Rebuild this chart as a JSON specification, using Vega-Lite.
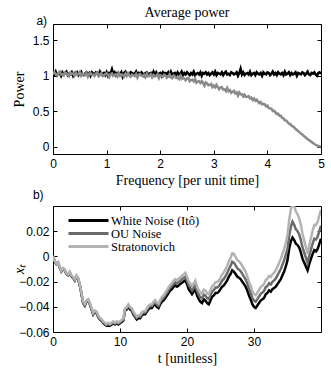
{
  "$schema": "https://vega.github.io/schema/vega-lite/v6.json",
  "padding": {"left": 11, "right": 5, "top": 5, "bottom": 3},
  "spacing": 0,
  "resolve": {"legend": {"color": "independent"}},
  "config": {
    "view": {"stroke": "black", "strokeWidth": 1},
    "axis": {"domain": false, "grid": false, "ticks": true, "tickColor": "black", "tickSize": -4, "tickWidth": 1,
      "labelFont": "Liberation Sans", "labelFontSize": 12, "labelColor": "black", "labelPadding": 8, "labelFlush": false, "labelOverlap": false,
      "titleFont": "Liberation Serif", "titleFontSize": 14, "titleFontWeight": "normal", "titleColor": "black"},
    "legend": {"orient": "none", "legendX": 14, "legendY": 8, "symbolType": "M-4,0H4", "symbolSize": 100, "symbolStrokeWidth": 3, "symbolOffset": 15,
      "labelFont": "Liberation Serif", "labelFontSize": 12.5, "labelColor": "black", "padding": 0, "rowPadding": -3, "labelOffset": 16},
    "title": {"font": "Liberation Serif", "fontSize": 14, "fontWeight": "normal", "color": "black", "frame": "group", "offset": -5}
  },
  "datasets": {
    "la": [{"label": "a)"}],
    "lb": [{"label": "b)"}],
    "top": [
      {"f":0,"w":1.05,"o":1.02},{"f":0.025,"w":1.02,"o":1.05},{"f":0.05,"w":1.06,"o":1.029},{"f":0.075,"w":1.01,"o":1.009},{"f":0.1,"w":1.03,"o":1.039},{"f":0.125,"w":1.04,"o":1.058},{"f":0.15,"w":1.0,"o":1.018},{"f":0.175,"w":1.05,"o":1.027},{"f":0.2,"w":1.02,"o":1.007},{"f":0.225,"w":1.04,"o":1.047},
      {"f":0.25,"w":1.06,"o":1.036},{"f":0.275,"w":1.01,"o":1.016},{"f":0.3,"w":1.03,"o":0.996},{"f":0.325,"w":1.02,"o":1.045},{"f":0.35,"w":1.05,"o":1.025},{"f":0.375,"w":1.0,"o":1.034},{"f":0.4,"w":1.04,"o":1.004},{"f":0.425,"w":1.03,"o":1.044},{"f":0.45,"w":1.05,"o":1.013},{"f":0.475,"w":1.01,"o":1.023},
      {"f":0.5,"w":1.04,"o":1.053},{"f":0.525,"w":1.06,"o":1.002},{"f":0.55,"w":1.02,"o":1.032},{"f":0.575,"w":1.01,"o":1.021},{"f":0.6,"w":1.03,"o":1.011},{"f":0.625,"w":1.05,"o":1.041},{"f":0.65,"w":1.02,"o":0.99},{"f":0.675,"w":1.04,"o":1.03},{"f":0.7,"w":1.0,"o":1.04},{"f":0.725,"w":1.05,"o":1.009},
      {"f":0.75,"w":1.03,"o":1.019},{"f":0.775,"w":1.02,"o":0.998},{"f":0.8,"w":1.05,"o":1.028},{"f":0.825,"w":1.04,"o":1.048},{"f":0.85,"w":1.01,"o":1.007},{"f":0.875,"w":1.06,"o":1.017},{"f":0.9,"w":1.02,"o":1.037},{"f":0.925,"w":1.03,"o":0.996},{"f":0.95,"w":1.04,"o":1.006},{"f":0.975,"w":1.01,"o":1.025},
      {"f":1.0,"w":1.05,"o":1.035},{"f":1.025,"w":1.0,"o":1.015},{"f":1.05,"w":1.04,"o":0.984},{"f":1.075,"w":1.03,"o":1.024},{"f":1.1,"w":1.09,"o":1.034},{"f":1.125,"w":1.02,"o":1.003},{"f":1.15,"w":1.05,"o":1.013},{"f":1.175,"w":1.01,"o":1.022},{"f":1.2,"w":1.04,"o":0.992},{"f":1.225,"w":1.03,"o":1.042},
      {"f":1.25,"w":1.02,"o":1.001},{"f":1.275,"w":1.05,"o":1.021},{"f":1.3,"w":0.99,"o":1.011},{"f":1.325,"w":1.04,"o":0.99},{"f":1.35,"w":1.06,"o":1.03},{"f":1.375,"w":1.02,"o":0.999},{"f":1.4,"w":1.03,"o":1.039},{"f":1.425,"w":1.01,"o":1.009},{"f":1.45,"w":1.05,"o":0.988},{"f":1.475,"w":1.04,"o":1.018},
      {"f":1.5,"w":1.02,"o":1.008},{"f":1.525,"w":1.03,"o":0.997},{"f":1.55,"w":1.06,"o":1.027},{"f":1.575,"w":1.01,"o":0.976},{"f":1.6,"w":1.04,"o":1.016},{"f":1.625,"w":1.02,"o":1.026},{"f":1.65,"w":1.05,"o":1.005},{"f":1.675,"w":1.03,"o":0.995},{"f":1.7,"w":1.0,"o":1.015},{"f":1.725,"w":1.04,"o":0.984},
      {"f":1.75,"w":1.05,"o":1.034},{"f":1.775,"w":1.02,"o":0.993},{"f":1.8,"w":1.03,"o":1.003},{"f":1.825,"w":1.04,"o":1.023},{"f":1.85,"w":1.01,"o":0.982},{"f":1.875,"w":1.06,"o":1.012},{"f":1.9,"w":1.02,"o":0.992},{"f":1.925,"w":1.05,"o":1.001},{"f":1.95,"w":1.01,"o":1.021},{"f":1.975,"w":1.03,"o":0.97},
      {"f":2.0,"w":1.04,"o":1.01},{"f":2.025,"w":1.0,"o":0.999},{"f":2.05,"w":1.05,"o":0.987},{"f":2.075,"w":1.03,"o":1.016},{"f":2.1,"w":1.04,"o":1.004},{"f":2.125,"w":1.02,"o":0.973},{"f":2.15,"w":1.05,"o":0.991},{"f":2.175,"w":1.01,"o":1.02},{"f":2.2,"w":1.06,"o":0.978},{"f":2.225,"w":1.02,"o":0.967},
      {"f":2.25,"w":1.03,"o":1.005},{"f":2.275,"w":1.04,"o":0.992},{"f":2.3,"w":1.01,"o":0.969},{"f":2.325,"w":1.05,"o":0.976},{"f":2.35,"w":1.02,"o":0.953},{"f":2.375,"w":1.03,"o":1.0},{"f":2.4,"w":1.06,"o":0.957},{"f":2.425,"w":1.01,"o":0.974},{"f":2.45,"w":1.04,"o":0.961},{"f":2.475,"w":1.02,"o":0.938},
      {"f":2.5,"w":1.05,"o":0.965},{"f":2.525,"w":1.03,"o":0.971},{"f":2.55,"w":1.01,"o":0.926},{"f":2.575,"w":1.04,"o":0.942},{"f":2.6,"w":1.02,"o":0.947},{"f":2.625,"w":1.06,"o":0.923},{"f":2.65,"w":1.01,"o":0.958},{"f":2.675,"w":1.03,"o":0.904},{"f":2.7,"w":1.04,"o":0.919},{"f":2.725,"w":1.02,"o":0.925},
      {"f":2.75,"w":1.05,"o":0.9},{"f":2.775,"w":1.0,"o":0.925},{"f":2.8,"w":1.04,"o":0.899},{"f":2.825,"w":1.03,"o":0.864},{"f":2.85,"w":1.05,"o":0.908},{"f":2.875,"w":1.02,"o":0.893},{"f":2.9,"w":1.04,"o":0.867},{"f":2.925,"w":1.01,"o":0.872},{"f":2.95,"w":1.03,"o":0.886},{"f":2.975,"w":1.05,"o":0.841},
      {"f":3.0,"w":1.02,"o":0.865},{"f":3.025,"w":1.06,"o":0.84},{"f":3.05,"w":1.01,"o":0.874},{"f":3.075,"w":1.04,"o":0.839},{"f":3.1,"w":1.03,"o":0.813},{"f":3.125,"w":1.02,"o":0.838},{"f":3.15,"w":1.05,"o":0.842},{"f":3.175,"w":1.01,"o":0.807},{"f":3.2,"w":1.04,"o":0.811},{"f":3.225,"w":1.06,"o":0.786},
      {"f":3.25,"w":1.02,"o":0.83},{"f":3.275,"w":1.03,"o":0.784},{"f":3.3,"w":1.01,"o":0.798},{"f":3.325,"w":1.05,"o":0.762},{"f":3.35,"w":1.04,"o":0.776},{"f":3.375,"w":1.02,"o":0.79},{"f":3.4,"w":1.03,"o":0.754},{"f":3.425,"w":1.05,"o":0.768},{"f":3.45,"w":1.0,"o":0.722},{"f":3.475,"w":1.04,"o":0.766},
      {"f":3.5,"w":1.1,"o":0.74},{"f":3.525,"w":1.02,"o":0.741},{"f":3.55,"w":1.05,"o":0.71},{"f":3.575,"w":1.01,"o":0.735},{"f":3.6,"w":1.03,"o":0.704},{"f":3.625,"w":1.04,"o":0.705},{"f":3.65,"w":1.02,"o":0.714},{"f":3.675,"w":1.06,"o":0.683},{"f":3.7,"w":1.01,"o":0.692},{"f":3.725,"w":1.03,"o":0.661},
      {"f":3.75,"w":1.04,"o":0.68},{"f":3.775,"w":1.01,"o":0.65},{"f":3.8,"w":1.05,"o":0.665},{"f":3.825,"w":1.03,"o":0.64},{"f":3.85,"w":1.02,"o":0.615},{"f":3.875,"w":1.04,"o":0.63},{"f":3.9,"w":1.0,"o":0.6},{"f":3.925,"w":1.05,"o":0.605},{"f":3.95,"w":1.03,"o":0.6},{"f":3.975,"w":1.02,"o":0.57},
      {"f":4.0,"w":1.05,"o":0.58},{"f":4.025,"w":1.04,"o":0.546},{"f":4.05,"w":1.01,"o":0.542},{"f":4.075,"w":1.03,"o":0.538},{"f":4.1,"w":1.06,"o":0.504},{"f":4.125,"w":1.02,"o":0.51},{"f":4.15,"w":1.04,"o":0.486},{"f":4.175,"w":1.01,"o":0.462},{"f":4.2,"w":1.05,"o":0.468},{"f":4.225,"w":1.03,"o":0.439},
      {"f":4.25,"w":1.02,"o":0.438},{"f":4.275,"w":1.04,"o":0.409},{"f":4.3,"w":1.01,"o":0.403},{"f":4.325,"w":1.06,"o":0.374},{"f":4.35,"w":1.02,"o":0.372},{"f":4.375,"w":1.03,"o":0.35},{"f":4.4,"w":1.05,"o":0.328},{"f":4.425,"w":1.01,"o":0.323},{"f":4.45,"w":1.04,"o":0.298},{"f":4.475,"w":1.02,"o":0.289},
      {"f":4.5,"w":1.03,"o":0.274},{"f":4.525,"w":1.05,"o":0.251},{"f":4.55,"w":1.0,"o":0.24},{"f":4.575,"w":1.04,"o":0.219},{"f":4.6,"w":1.03,"o":0.208},{"f":4.625,"w":1.02,"o":0.188},{"f":4.65,"w":1.05,"o":0.176},{"f":4.675,"w":1.04,"o":0.156},{"f":4.7,"w":1.01,"o":0.143},{"f":4.725,"w":1.03,"o":0.125},
      {"f":4.75,"w":1.06,"o":0.11},{"f":4.775,"w":1.02,"o":0.096},{"f":4.8,"w":1.01,"o":0.082},{"f":4.825,"w":1.04,"o":0.068},{"f":4.85,"w":1.03,"o":0.054},{"f":4.875,"w":1.05,"o":0.04},{"f":4.9,"w":1.02,"o":0.03},{"f":4.925,"w":1.0,"o":0.021},{"f":4.95,"w":1.04,"o":0.013},{"f":4.975,"w":1.05,"o":0.007},
      {"f":5.0,"w":1.03,"o":0.005}
    ],
    "bot": [
      {"t":0,"w":0,"o":0.0003,"s":0.0005},{"t":0.25,"w":-0.004,"o":-0.0038,"s":-0.0035},{"t":0.5,"w":-0.006,"o":-0.0057,"s":-0.0054},{"t":0.75,"w":-0.005,"o":-0.0047,"s":-0.0044},
      {"t":1,"w":-0.009,"o":-0.0087,"s":-0.0084},{"t":1.25,"w":-0.012,"o":-0.0117,"s":-0.0114},{"t":1.5,"w":-0.01,"o":-0.0097,"s":-0.0093},{"t":1.75,"w":-0.011,"o":-0.0107,"s":-0.0103},
      {"t":2,"w":-0.014,"o":-0.0137,"s":-0.0133},{"t":2.25,"w":-0.015,"o":-0.0147,"s":-0.0143},{"t":2.5,"w":-0.013,"o":-0.0126,"s":-0.0122},{"t":2.75,"w":-0.016,"o":-0.0156,"s":-0.0152},
      {"t":3,"w":-0.017,"o":-0.0166,"s":-0.0162},{"t":3.25,"w":-0.019,"o":-0.0186,"s":-0.0182},{"t":3.5,"w":-0.016,"o":-0.0156,"s":-0.0151},{"t":3.75,"w":-0.018,"o":-0.0176,"s":-0.0171},
      {"t":4,"w":-0.023,"o":-0.0226,"s":-0.0221},{"t":4.25,"w":-0.03,"o":-0.0296,"s":-0.0291},{"t":4.5,"w":-0.037,"o":-0.0365,"s":-0.036},{"t":4.75,"w":-0.039,"o":-0.0385,"s":-0.038},
      {"t":5,"w":-0.036,"o":-0.0355,"s":-0.035},{"t":5.25,"w":-0.035,"o":-0.0345,"s":-0.034},{"t":5.5,"w":-0.038,"o":-0.0375,"s":-0.0369},{"t":5.75,"w":-0.042,"o":-0.0415,"s":-0.0409},
      {"t":6,"w":-0.046,"o":-0.0455,"s":-0.0449},{"t":6.25,"w":-0.044,"o":-0.0435,"s":-0.0429},{"t":6.5,"w":-0.045,"o":-0.0444,"s":-0.0438},{"t":6.75,"w":-0.048,"o":-0.0474,"s":-0.0468},
      {"t":7,"w":-0.05,"o":-0.0494,"s":-0.0488},{"t":7.25,"w":-0.051,"o":-0.0504,"s":-0.0498},{"t":7.5,"w":-0.053,"o":-0.0524,"s":-0.0517},{"t":7.75,"w":-0.054,"o":-0.0534,"s":-0.0527},
      {"t":8,"w":-0.055,"o":-0.0544,"s":-0.0537},{"t":8.25,"w":-0.054,"o":-0.0534,"s":-0.0527},{"t":8.5,"w":-0.055,"o":-0.0543,"s":-0.0536},{"t":8.75,"w":-0.054,"o":-0.0533,"s":-0.0526},
      {"t":9,"w":-0.053,"o":-0.0523,"s":-0.0516},{"t":9.25,"w":-0.054,"o":-0.0533,"s":-0.0526},{"t":9.5,"w":-0.053,"o":-0.0522,"s":-0.0515},{"t":9.75,"w":-0.054,"o":-0.0532,"s":-0.0525},
      {"t":10,"w":-0.053,"o":-0.0522,"s":-0.0515},{"t":10.25,"w":-0.052,"o":-0.0512,"s":-0.0504},{"t":10.5,"w":-0.051,"o":-0.0502,"s":-0.0493},{"t":10.75,"w":-0.043,"o":-0.0421,"s":-0.0413},
      {"t":11,"w":-0.042,"o":-0.0411,"s":-0.0402},{"t":11.25,"w":-0.04,"o":-0.039,"s":-0.0381},{"t":11.5,"w":-0.042,"o":-0.041,"s":-0.0401},{"t":11.75,"w":-0.043,"o":-0.042,"s":-0.041},
      {"t":12,"w":-0.046,"o":-0.0449,"s":-0.0439},{"t":12.25,"w":-0.048,"o":-0.0469,"s":-0.0458},{"t":12.5,"w":-0.05,"o":-0.0489,"s":-0.0478},{"t":12.75,"w":-0.049,"o":-0.0478,"s":-0.0467},
      {"t":13,"w":-0.049,"o":-0.0478,"s":-0.0466},{"t":13.25,"w":-0.047,"o":-0.0457,"s":-0.0445},{"t":13.5,"w":-0.046,"o":-0.0447,"s":-0.0435},{"t":13.75,"w":-0.046,"o":-0.0447,"s":-0.0434},
      {"t":14,"w":-0.044,"o":-0.0426,"s":-0.0413},{"t":14.25,"w":-0.042,"o":-0.0406,"s":-0.0392},{"t":14.5,"w":-0.041,"o":-0.0396,"s":-0.0382},{"t":14.75,"w":-0.041,"o":-0.0395,"s":-0.0381},
      {"t":15,"w":-0.039,"o":-0.0375,"s":-0.036},{"t":15.25,"w":-0.038,"o":-0.0364,"s":-0.0348},{"t":15.5,"w":-0.04,"o":-0.0383,"s":-0.0367},{"t":15.75,"w":-0.041,"o":-0.0392,"s":-0.0375},
      {"t":16,"w":-0.038,"o":-0.0362,"s":-0.0344},{"t":16.25,"w":-0.036,"o":-0.0341,"s":-0.0322},{"t":16.5,"w":-0.035,"o":-0.033,"s":-0.0311},{"t":16.75,"w":-0.033,"o":-0.0309,"s":-0.0289},
      {"t":17,"w":-0.031,"o":-0.0289,"s":-0.0268},{"t":17.25,"w":-0.029,"o":-0.0268,"s":-0.0246},{"t":17.5,"w":-0.027,"o":-0.0247,"s":-0.0225},{"t":17.75,"w":-0.026,"o":-0.0237,"s":-0.0213},
      {"t":18,"w":-0.024,"o":-0.0216,"s":-0.0192},{"t":18.25,"w":-0.023,"o":-0.0205,"s":-0.018},{"t":18.5,"w":-0.024,"o":-0.0214,"s":-0.0189},{"t":18.75,"w":-0.023,"o":-0.0204,"s":-0.0177},
      {"t":19,"w":-0.022,"o":-0.0193,"s":-0.0166},{"t":19.25,"w":-0.021,"o":-0.0182,"s":-0.0154},{"t":19.5,"w":-0.02,"o":-0.0171,"s":-0.0143},{"t":19.75,"w":-0.019,"o":-0.0161,"s":-0.0131},
      {"t":20,"w":-0.022,"o":-0.019,"s":-0.016},{"t":20.25,"w":-0.026,"o":-0.0229,"s":-0.0198},{"t":20.5,"w":-0.028,"o":-0.0248,"s":-0.0217},{"t":20.75,"w":-0.03,"o":-0.0268,"s":-0.0235},
      {"t":21,"w":-0.028,"o":-0.0247,"s":-0.0214},{"t":21.25,"w":-0.026,"o":-0.0226,"s":-0.0192},{"t":21.5,"w":-0.031,"o":-0.0276,"s":-0.0241},{"t":21.75,"w":-0.034,"o":-0.0305,"s":-0.0269},
      {"t":22,"w":-0.036,"o":-0.0324,"s":-0.0288},{"t":22.25,"w":-0.037,"o":-0.0333,"s":-0.0296},{"t":22.5,"w":-0.034,"o":-0.0303,"s":-0.0265},{"t":22.75,"w":-0.035,"o":-0.0312,"s":-0.0273},
      {"t":23,"w":-0.037,"o":-0.0331,"s":-0.0292},{"t":23.25,"w":-0.038,"o":-0.034,"s":-0.03},{"t":23.5,"w":-0.035,"o":-0.031,"s":-0.0269},{"t":23.75,"w":-0.032,"o":-0.0279,"s":-0.0237},
      {"t":24,"w":-0.031,"o":-0.0268,"s":-0.0226},{"t":24.25,"w":-0.029,"o":-0.0247,"s":-0.0204},{"t":24.5,"w":-0.029,"o":-0.0247,"s":-0.0203},{"t":24.75,"w":-0.028,"o":-0.0236,"s":-0.0191},
      {"t":25,"w":-0.026,"o":-0.0215,"s":-0.017},{"t":25.25,"w":-0.024,"o":-0.0192,"s":-0.0144},{"t":25.5,"w":-0.023,"o":-0.0179,"s":-0.0127},{"t":25.75,"w":-0.021,"o":-0.0156,"s":-0.0101},
      {"t":26,"w":-0.019,"o":-0.0133,"s":-0.0075},{"t":26.25,"w":-0.016,"o":-0.01,"s":-0.0039},{"t":26.5,"w":-0.014,"o":-0.0076,"s":-0.0012},{"t":26.75,"w":-0.011,"o":-0.0043,"s":0.0024},
      {"t":27,"w":-0.012,"o":-0.005,"s":0.002},{"t":27.25,"w":-0.014,"o":-0.0072,"s":-0.0003},{"t":27.5,"w":-0.016,"o":-0.0094,"s":-0.0027},{"t":27.75,"w":-0.017,"o":-0.0105,"s":-0.004},
      {"t":28,"w":-0.018,"o":-0.0117,"s":-0.0053},{"t":28.25,"w":-0.02,"o":-0.0139,"s":-0.0077},{"t":28.5,"w":-0.022,"o":-0.016,"s":-0.01},{"t":28.75,"w":-0.024,"o":-0.0182,"s":-0.0123},
      {"t":29,"w":-0.027,"o":-0.0214,"s":-0.0157},{"t":29.25,"w":-0.031,"o":-0.0255,"s":-0.02},{"t":29.5,"w":-0.034,"o":-0.0287,"s":-0.0233},{"t":29.75,"w":-0.038,"o":-0.0329,"s":-0.0277},
      {"t":30,"w":-0.04,"o":-0.035,"s":-0.03},{"t":30.25,"w":-0.041,"o":-0.0359,"s":-0.0308},{"t":30.5,"w":-0.039,"o":-0.0339,"s":-0.0287},{"t":30.75,"w":-0.037,"o":-0.0318,"s":-0.0265},
      {"t":31,"w":-0.035,"o":-0.0297,"s":-0.0243},{"t":31.25,"w":-0.034,"o":-0.0286,"s":-0.0232},{"t":31.5,"w":-0.033,"o":-0.0275,"s":-0.022},{"t":31.75,"w":-0.03,"o":-0.0244,"s":-0.0188},
      {"t":32,"w":-0.029,"o":-0.0234,"s":-0.0177},{"t":32.25,"w":-0.027,"o":-0.0213,"s":-0.0155},{"t":32.5,"w":-0.028,"o":-0.0222,"s":-0.0163},{"t":32.75,"w":-0.026,"o":-0.0201,"s":-0.0142},
      {"t":33,"w":-0.025,"o":-0.019,"s":-0.013},{"t":33.25,"w":-0.024,"o":-0.0175,"s":-0.011},{"t":33.5,"w":-0.022,"o":-0.015,"s":-0.008},{"t":33.75,"w":-0.02,"o":-0.0125,"s":-0.005},
      {"t":34,"w":-0.018,"o":-0.01,"s":-0.002},{"t":34.25,"w":-0.015,"o":-0.0065,"s":0.002},{"t":34.5,"w":-0.012,"o":-0.003,"s":0.006},{"t":34.75,"w":-0.008,"o":0.0015,"s":0.011},
      {"t":35,"w":-0.003,"o":0.006,"s":0.017},{"t":35.25,"w":0.006,"o":0.0162,"s":0.0287},{"t":35.5,"w":0.012,"o":0.0234,"s":0.0373},{"t":35.75,"w":0.015,"o":0.0276,"s":0.043},
      {"t":36,"w":0.013,"o":0.0251,"s":0.0398},{"t":36.25,"w":0.01,"o":0.0215,"s":0.0356},{"t":36.5,"w":0.009,"o":0.02,"s":0.0334},{"t":36.75,"w":0.007,"o":0.0174,"s":0.0302},
      {"t":37,"w":0.003,"o":0.0129,"s":0.025},{"t":37.25,"w":-0.002,"o":0.0069,"s":0.0178},{"t":37.5,"w":-0.005,"o":0.0029,"s":0.0125},{"t":37.75,"w":-0.008,"o":-0.0011,"s":0.0073},
      {"t":38,"w":-0.011,"o":-0.0052,"s":0.002},{"t":38.25,"w":-0.006,"o":0.0007,"s":0.0088},{"t":38.5,"w":-0.002,"o":0.0054,"s":0.0145},{"t":38.75,"w":0.002,"o":0.0102,"s":0.0203},
      {"t":39,"w":0.005,"o":0.014,"s":0.025},{"t":39.25,"w":0.004,"o":0.0134,"s":0.0248},{"t":39.5,"w":0.006,"o":0.0157,"s":0.0275},{"t":39.75,"w":0.01,"o":0.02,"s":0.0323},
      {"t":40,"w":0.014,"o":0.0244,"s":0.037}
    ]
  },
  "vconcat": [
    {
      "width": 268, "height": 130,
      "title": {"text": "Average power"},
      "data": {"name": "top"},
      "resolve": {"axis": {"x": "independent", "y": "independent"}},
      "layer": [
        {"mark": {"type": "line", "color": "black", "strokeWidth": 2.5, "clip": true},
         "encoding": {
           "x": {"field": "f", "type": "quantitative", "scale": {"domain": [0, 5], "nice": false}, "axis": {"values": [0,1,2,3,4,5], "title": "Frequency [per unit time]"}},
           "y": {"field": "w", "type": "quantitative", "scale": {"domain": [-0.1, 1.73], "nice": false, "zero": false}, "axis": {"values": [0,0.5,1,1.5], "format": "~g", "title": "Power", "titleX": -27}}}},
        {"mark": {"type": "line", "color": "#8a8a8a", "strokeWidth": 2.5, "clip": true},
         "encoding": {
           "x": {"field": "f", "type": "quantitative", "axis": null},
           "y": {"field": "o", "type": "quantitative", "axis": null}}},
        {"mark": {"type": "point", "opacity": 0},
         "encoding": {
           "x": {"field": "f", "type": "quantitative", "axis": {"orient": "top", "values": [0,1,2,3,4,5], "labels": false, "title": null}},
           "y": {"field": "o", "type": "quantitative", "axis": {"orient": "right", "values": [0,0.5,1,1.5], "labels": false, "title": null}}}},
        {"data": {"name": "la"},
         "mark": {"type": "text", "font": "Liberation Sans", "fontSize": 12, "align": "center", "baseline": "middle", "color": "black"},
         "encoding": {
           "x": {"datum": -0.21, "type": "quantitative", "axis": null},
           "y": {"datum": 1.77, "type": "quantitative", "axis": null},
           "text": {"field": "label"}}}
      ]
    },
    {
      "width": 268, "height": 126,
      "data": {"name": "bot"},
      "resolve": {"axis": {"x": "independent", "y": "independent"}},
      "layer": [
        {"mark": {"type": "line", "strokeWidth": 2.5, "clip": true},
         "encoding": {
           "x": {"field": "t", "type": "quantitative", "scale": {"domain": [0, 40], "nice": false}, "axis": {"values": [0,10,20,30], "title": "t [unitless]"}},
           "y": {"field": "w", "type": "quantitative", "scale": {"domain": [-0.06, 0.04], "nice": false, "zero": false}, "axis": {"values": [-0.06,-0.04,-0.02,0,0.02], "format": "~g", "title": "xₜ", "titleFontStyle": "italic", "titleX": -27}},
           "color": {"datum": "White Noise (Itô)", "type": "nominal", "scale": {"domain": ["White Noise (Itô)", "OU Noise", "Stratonovich"], "range": ["#000000", "#6b6b6b", "#b3b3b3"]}, "legend": {"title": null}}}},
        {"mark": {"type": "line", "strokeWidth": 2.5, "clip": true},
         "encoding": {
           "x": {"field": "t", "type": "quantitative", "axis": null},
           "y": {"field": "o", "type": "quantitative", "axis": null},
           "color": {"datum": "OU Noise", "type": "nominal", "legend": {"title": null}}}},
        {"mark": {"type": "line", "strokeWidth": 2.5, "clip": true},
         "encoding": {
           "x": {"field": "t", "type": "quantitative", "axis": null},
           "y": {"field": "s", "type": "quantitative", "axis": null},
           "color": {"datum": "Stratonovich", "type": "nominal", "legend": {"title": null}}}},
        {"mark": {"type": "point", "opacity": 0},
         "encoding": {
           "x": {"field": "t", "type": "quantitative", "axis": {"orient": "top", "values": [0,10,20,30], "labels": false, "title": null}},
           "y": {"field": "w", "type": "quantitative", "axis": {"orient": "right", "values": [-0.06,-0.04,-0.02,0,0.02], "labels": false, "title": null}}}},
        {"data": {"name": "lb"},
         "mark": {"type": "text", "font": "Liberation Sans", "fontSize": 12, "align": "center", "baseline": "middle", "color": "black"},
         "encoding": {
           "x": {"datum": -2.2, "type": "quantitative", "axis": null},
           "y": {"datum": 0.049, "type": "quantitative", "axis": null},
           "text": {"field": "label"}}}
      ]
    }
  ]
}
